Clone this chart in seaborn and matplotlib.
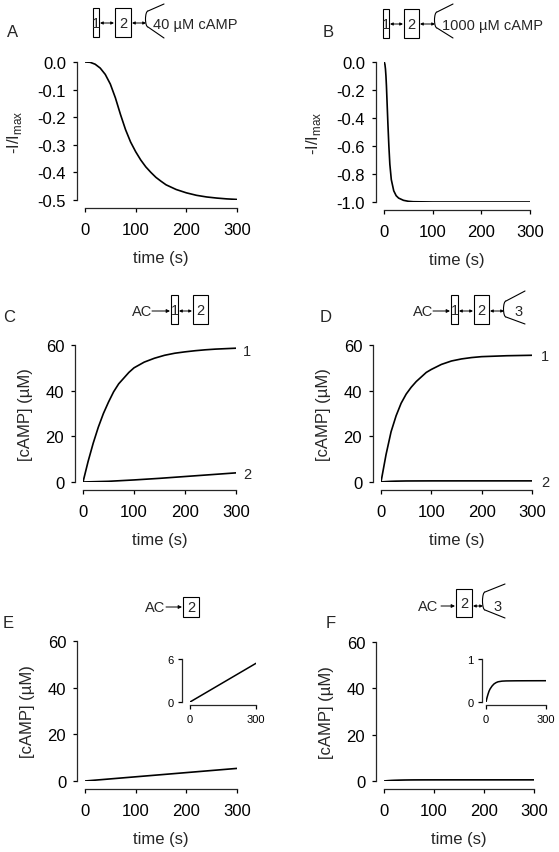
import matplotlib
matplotlib.use("Agg")
import matplotlib.pyplot as plt
import seaborn as sns
import pandas as pd
from matplotlib.patches import Rectangle, Arc

# ---- data ----
# A: 40 uM cAMP, normalised current
t_a = [0, 10, 20, 30, 40, 50, 60, 70, 80, 90, 100, 110, 120, 130, 140, 150,
       160, 180, 200, 220, 240, 260, 280, 300]
i_a = [0, -0.001, -0.008, -0.022, -0.045, -0.08, -0.13, -0.19, -0.245, -0.29,
       -0.325, -0.355, -0.38, -0.4, -0.418, -0.432, -0.445, -0.462, -0.474,
       -0.483, -0.489, -0.493, -0.496, -0.498]

# B: 1000 uM cAMP
t_b = [0, 1, 2, 3, 4, 5, 6, 8, 10, 12, 15, 20, 25, 30, 40, 50, 60, 80, 100,
       150, 200, 250, 300]
i_b = [0, -0.005, -0.02, -0.05, -0.1, -0.17, -0.26, -0.44, -0.6, -0.73,
       -0.84, -0.92, -0.955, -0.972, -0.988, -0.995, -0.998, -0.999, -1.0,
       -1.0, -1.0, -1.0, -1.0]

# C: AC -> 1 <-> 2
t_c1 = [0, 10, 20, 30, 40, 50, 60, 70, 80, 90, 100, 120, 140, 160, 180, 200,
        220, 240, 260, 280, 300]
c_c1 = [0, 9, 17, 24, 30, 35, 39.5, 43, 45.5, 48, 50, 52.5, 54.2, 55.5, 56.4,
        57, 57.5, 57.9, 58.2, 58.4, 58.6]
t_c2 = [0, 50, 100, 150, 200, 250, 300]
c_c2 = [0, 0.3, 0.9, 1.6, 2.4, 3.2, 4.0]

# D: AC -> 1 <-> 2 <-> 3
t_d1 = [0, 10, 20, 30, 40, 50, 60, 70, 80, 90, 100, 120, 140, 160, 180, 200,
        250, 300]
c_d1 = [0, 12, 22, 29, 34.5, 38.5, 41.5, 44, 46, 48, 49.3, 51.5, 53, 53.9,
        54.5, 54.9, 55.3, 55.5]
t_d2 = [0, 5, 10, 20, 30, 50, 100, 200, 300]
c_d2 = [0, 0.1, 0.18, 0.3, 0.37, 0.45, 0.49, 0.494, 0.495]

# E: AC -> 2
t_e = [0, 100, 200, 300]
c_e = [0, 1.8, 3.6, 5.4]

# F: AC -> 2 <-> 3
t_f = [0, 5, 10, 15, 20, 30, 40, 50, 60, 80, 100, 150, 200, 300]
c_f = [0, 0.1, 0.18, 0.25, 0.3, 0.37, 0.42, 0.45, 0.47, 0.485, 0.49, 0.493,
       0.494, 0.495]

W, H = 559, 853

sns.set_style("ticks")
plt.rcParams["font.family"] = ["Liberation Sans", "DejaVu Sans"]
plt.rcParams["axes.unicode_minus"] = False
plt.rcParams["axes.linewidth"] = 0.9
plt.rcParams["xtick.major.size"] = 3
plt.rcParams["ytick.major.size"] = 3
plt.rcParams["xtick.major.width"] = 0.9
plt.rcParams["ytick.major.width"] = 0.9
plt.rcParams["xtick.major.pad"] = 7
plt.rcParams["ytick.major.pad"] = 5

fig = plt.figure(figsize=(W / 100, H / 100), dpi=100)


def px_axes(l, r, t, b):
    return fig.add_axes([l / W, 1 - b / H, (r - l) / W, (b - t) / H])


def style(ax, xoff, yoff, size=12):
    sns.despine(ax=ax)
    ax.spines["left"].set_position(("outward", yoff))
    ax.spines["bottom"].set_position(("outward", xoff))
    ax.tick_params(labelsize=size, colors="black")


def curve(ax, t, y, lw=1.2):
    df = pd.DataFrame({"t": t, "y": y})
    sns.lineplot(data=df, x="t", y="y", ax=ax, color="black", lw=lw)
    ax.set_xlabel("")
    ax.set_ylabel("")


# panel axes (pixel boxes)
ax_a = px_axes(85, 237, 63, 201)
ax_b = px_axes(384, 530, 63, 203)
ax_c = px_axes(83, 236, 346, 483)
ax_d = px_axes(381, 532, 346, 483)
ax_e = px_axes(85, 237, 642, 782)
ax_f = px_axes(384, 534, 643, 782)

curve(ax_a, t_a, i_a)
curve(ax_b, t_b, i_b)
curve(ax_c, t_c1, c_c1)
curve(ax_c, t_c2, c_c2)
curve(ax_d, t_d1, c_d1)
curve(ax_d, t_d2, c_d2)
curve(ax_e, t_e, c_e)
curve(ax_f, t_f, c_f)

for ax in [ax_a, ax_b, ax_c, ax_d, ax_e, ax_f]:
    ax.set_xlim(0, 300)
    ax.set_xticks([0, 100, 200, 300])
    style(ax, 5.5, 5.5)
    ax.set_xlabel("time (s)", fontsize=12, labelpad=10)

ax_a.set_ylim(-0.5, 0)
ax_a.set_yticks([0, -0.1, -0.2, -0.3, -0.4, -0.5])
ax_a.set_yticklabels(["0.0", "-0.1", "-0.2", "-0.3", "-0.4", "-0.5"])
ax_b.set_ylim(-1.0, 0)
ax_b.set_yticks([0, -0.2, -0.4, -0.6, -0.8, -1.0])
ax_b.set_yticklabels(["0.0", "-0.2", "-0.4", "-0.6", "-0.8", "-1.0"])
for ax in [ax_a, ax_b]:
    ax.set_ylabel("-I/I$_\\mathregular{max}$", fontsize=12, labelpad=10)
for ax in [ax_c, ax_d, ax_e, ax_f]:
    ax.set_ylim(0, 60)
    ax.set_yticks([0, 20, 40, 60])
    ax.set_ylabel("[cAMP] (\u00b5M)", fontsize=12, labelpad=9)

# insets
in_e = px_axes(190, 256, 660, 703)
curve(in_e, t_e, c_e, lw=1.1)
in_e.set_xlim(0, 300)
in_e.set_ylim(0, 6)
in_e.set_xticks([0, 300])
in_e.set_yticks([0, 6])
style(in_e, 2.5, 6, size=8)
in_e.tick_params(pad=3)

in_f = px_axes(486, 546, 660, 703)
curve(in_f, t_f, c_f, lw=1.1)
in_f.set_xlim(0, 300)
in_f.set_ylim(0, 1)
in_f.set_xticks([0, 300])
in_f.set_yticks([0, 1])
style(in_f, 2.5, 3, size=8)
in_f.tick_params(pad=3)

# ---- overlay for schematics and panel letters (pixel coords) ----
ov = fig.add_axes([0, 0, 1, 1])
ov.set_xlim(0, W)
ov.set_ylim(H, 0)
ov.axis("off")


def box(x0, x1, y0, y1, label):
    ov.add_patch(Rectangle((x0, y0), x1 - x0, y1 - y0, fill=False,
                           lw=0.8, ec="black"))
    ov.text((x0 + x1) / 2, (y0 + y1) / 2 + 0.5, label, ha="center",
            va="center", fontsize=10.5)


def darrow(x0, x1, y):
    ov.annotate("", xy=(x1, y), xytext=(x0, y),
                arrowprops=dict(arrowstyle="<|-|>", lw=0.7, color="black",
                                mutation_scale=4, shrinkA=0, shrinkB=0))


def sarrow(x0, x1, y):
    ov.annotate("", xy=(x1, y), xytext=(x0, y),
                arrowprops=dict(arrowstyle="-|>", lw=0.7, color="black",
                                mutation_scale=5, shrinkA=0, shrinkB=0))


def pipette(x, yc, half, x_end, top, bot):
    ov.add_patch(Arc((x + 2, yc), 5, 2 * half, theta1=90, theta2=270,
                     lw=0.8, color="black"))
    ov.plot([x + 2, x_end], [yc - half, top], color="black", lw=0.8)
    ov.plot([x + 2, x_end], [yc + half, bot], color="black", lw=0.8)


# A
box(93, 99, 9, 38, "1")
box(115, 131, 9, 38, "2")
darrow(100, 114, 24)
darrow(132, 146, 24)
pipette(146, 20, 8, 164, 5, 39)
ov.text(153, 25, "40 \u00b5M cAMP", fontsize=10.5, va="center")
ov.text(7, 32, "A", fontsize=12, va="center")

# B
box(383, 389, 10, 39, "1")
box(404, 419, 10, 39, "2")
darrow(390, 403, 25)
darrow(420, 435, 25)
pipette(435, 21, 8, 453, 5, 39)
ov.text(442, 26, "1000 \u00b5M cAMP", fontsize=10.5, va="center")
ov.text(323, 32, "B", fontsize=12, va="center")

# C
ov.text(132, 312, "AC", fontsize=10.5, va="center")
sarrow(152, 170, 312)
box(171, 178, 296, 325, "1")
box(193, 208, 296, 325, "2")
darrow(179, 192, 312)
ov.text(3, 317, "C", fontsize=12, va="center")
ov.text(243, 352, "1", fontsize=10.5, va="center")
ov.text(243, 475, "2", fontsize=10.5, va="center")

# D
ov.text(413, 312, "AC", fontsize=10.5, va="center")
sarrow(433, 450, 312)
box(451, 458, 296, 325, "1")
box(474, 489, 296, 325, "2")
darrow(459, 473, 312)
darrow(490, 504, 312)
pipette(504, 310, 8, 525, 292, 325)
ov.text(514, 312, "3", fontsize=10.5, va="center")
ov.text(320, 317, "D", fontsize=12, va="center")
ov.text(541, 357, "1", fontsize=10.5, va="center")
ov.text(541, 483, "2", fontsize=10.5, va="center")

# E
ov.text(145, 608, "AC", fontsize=10.5, va="center")
sarrow(166, 182, 608)
box(183, 199, 598, 618, "2")
ov.text(3, 623, "E", fontsize=12, va="center")

# F
ov.text(418, 607, "AC", fontsize=10.5, va="center")
sarrow(441, 455, 607)
box(456, 472, 590, 618, "2")
darrow(473, 483, 607)
pipette(483, 602, 9, 505, 585, 619)
ov.text(493, 607, "3", fontsize=10.5, va="center")
ov.text(326, 623, "F", fontsize=12, va="center")

fig.savefig("out.png", dpi=100)
